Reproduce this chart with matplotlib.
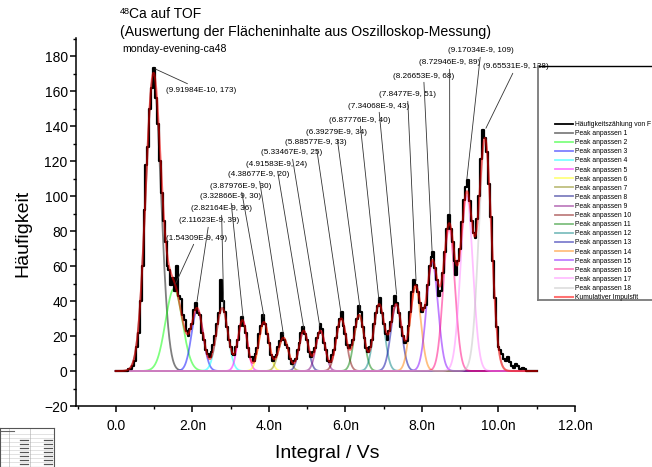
import numpy as np
import matplotlib
matplotlib.use('Agg')
import matplotlib.pyplot as plt
from matplotlib.lines import Line2D
from matplotlib.ticker import MultipleLocator, FuncFormatter

plt.rcParams['font.family'] = ['Liberation Sans', 'DejaVu Sans']

# ---------------- data ----------------
# histogram (Häufigkeit) at bin centres, x in nVs (0.05 nVs steps)
hist_x = [i * 0.05 for i in range(221)]
hist_counts = [
    0, 0, 0, 0, 0, 0, 0, 1, 1, 3,              # 0.00 - 0.45
    6, 14, 22, 40, 60, 92, 118, 128, 150, 162,  # 0.50 - 0.95
    173, 156, 141, 120, 102, 86, 74, 60, 58, 49,  # 1.00 - 1.45
    53, 46, 60, 43, 41, 32, 29, 23, 20, 24,    # 1.50 - 1.95
    27, 35, 39, 33, 32, 22, 18, 12, 10, 8,     # 2.00 - 2.45
    11, 15, 20, 27, 33, 52, 40, 34, 25, 18,    # 2.50 - 2.95
    14, 10, 9, 14, 18, 26, 31, 26, 22, 13,     # 3.00 - 3.45
    8, 8, 6, 10, 13, 21, 26, 32, 27, 21,       # 3.50 - 3.95
    16, 9, 6, 8, 9, 14, 17, 22, 18, 15,        # 4.00 - 4.45
    13, 7, 4, 6, 7, 12, 16, 22, 25, 21,        # 4.50 - 4.95
    18, 11, 8, 11, 13, 19, 22, 27, 24, 16,     # 5.00 - 5.45
    12, 6, 5, 9, 12, 19, 25, 30, 34, 26,       # 5.50 - 5.95
    21, 15, 13, 15, 18, 25, 30, 37, 34, 25,    # 6.00 - 6.45
    19, 13, 11, 14, 18, 27, 33, 37, 42, 33,    # 6.50 - 6.95
    27, 21, 18, 23, 28, 37, 43, 39, 33, 25,    # 7.00 - 7.45
    20, 16, 17, 26, 34, 45, 52, 49, 45, 39,    # 7.50 - 7.95
    34, 36, 38, 49, 60, 65, 68, 59, 52, 43,    # 8.00 - 8.45
    46, 56, 68, 81, 89, 81, 74, 63, 55, 63,    # 8.50 - 8.95
    70, 85, 98, 105, 109, 97, 86, 79, 76, 87,  # 9.00 - 9.45
    100, 121, 138, 133, 125, 107, 88, 63, 42, 25,  # 9.50 - 9.95
    14, 12, 10, 7, 6, 8, 5, 3, 2, 4,           # 10.00 - 10.45
    3, 1, 1, 2, 1, 0, 0, 0, 0, 0,              # 10.50 - 10.95
    0]                                          # 11.00

# fitted gaussian peaks (centre nVs, height, sigma nVs)
peak_centers = [0.98, 1.52, 2.13, 2.78, 3.31, 3.87, 4.38, 4.91, 5.35,
                5.89, 6.36, 6.88, 7.33, 7.83, 8.27, 8.71, 9.17, 9.65]
peak_heights = [168, 47, 35, 36, 29, 28, 19, 23, 23,
                30, 32, 38, 38, 48, 62, 82, 100, 132]
peak_sigmas = [0.20, 0.22, 0.15, 0.15, 0.12, 0.13, 0.13, 0.12, 0.12,
               0.13, 0.13, 0.14, 0.14, 0.14, 0.15, 0.15, 0.16, 0.165]

# labelled maxima
label_x = [9.91984e-10, 1.54309e-9, 2.11623e-9, 2.82164e-9, 3.32866e-9,
           3.87976e-9, 4.38677e-9, 4.91583e-9, 5.33467e-9, 5.88577e-9,
           6.39279e-9, 6.87776e-9, 7.34068e-9, 7.8477e-9, 8.26653e-9,
           8.72946e-9, 9.17034e-9, 9.65531e-9]
label_y = [173, 49, 39, 36, 30, 30, 20, 24, 25, 33, 34, 40, 43, 51, 68, 89, 109, 138]

legend_labels = ['Häufigkeitszählung von F'] + \
    [f'Peak anpassen {i}' for i in range(1, 19)] + ['Kumulativer Impulsfit']

# ---------------- styles / layout ----------------
peak_colors = ['#000000', '#00ff00', '#0000ff', '#00ffff', '#ff00ff', '#ffff00',
               '#808000', '#000080', '#800080', '#800000', '#008000', '#008080',
               '#0000a0', '#ff8000', '#8000ff', '#ff0080', '#ff80ff', '#c0c0c0']
label_pos_px = [(166, 90), (166, 238), (179, 221), (191, 209), (200, 197), (210, 186),
                (228, 175), (246, 165), (261, 153), (285, 143), (306, 133), (329, 120),
                (348, 106), (379, 95), (393, 76), (419, 63), (448, 51), (483, 67)]

W, H = 652, 467
fig = plt.figure(figsize=(W / 100, H / 100), dpi=100)
ax = fig.add_axes([76 / W, 1 - 406 / H, (575 - 76) / W, (406 - 38) / H])

xf = np.linspace(0, 11.0, 1101)
total = np.zeros_like(xf)
for c, a, s, col in zip(peak_centers, peak_heights, peak_sigmas, peak_colors):
    g = a * np.exp(-(xf - c) ** 2 / (2 * s ** 2))
    total += g
    ax.plot(xf, g, color=col, alpha=0.5, lw=1.3, zorder=2)

ax.plot(hist_x, hist_counts, color='black', lw=1.6, drawstyle='steps-mid', zorder=3)
ax.plot(xf, total, color='red', alpha=0.55, lw=1.5, zorder=4)

for lx, ly, (px, py) in zip(label_x, label_y, label_pos_px):
    txt = ('(%G, %d)' % (lx, ly)).replace('E-0', 'E-')
    ax.annotate(txt, xy=(lx * 1e9, ly), xycoords='data',
                xytext=(px, H - py), textcoords='figure pixels',
                ha='left', va='center', fontsize=5.9,
                arrowprops=dict(arrowstyle='-', color='#333333', lw=0.6,
                                shrinkA=0, shrinkB=1), zorder=5)

ax.set_xlim(-1.04, 12.0)
ax.set_ylim(-20, 190.3)
for sp in ['top', 'right']:
    ax.spines[sp].set_visible(False)
for sp in ['left', 'bottom']:
    ax.spines[sp].set_linewidth(1.1)
ax.xaxis.set_major_locator(MultipleLocator(2))
ax.xaxis.set_minor_locator(MultipleLocator(1))
ax.yaxis.set_major_locator(MultipleLocator(20))
ax.yaxis.set_minor_locator(MultipleLocator(10))
ax.xaxis.set_major_formatter(FuncFormatter(lambda v, p: '0.0' if abs(v) < 1e-9 else f'{v:.1f}n'))
ax.tick_params(which='major', direction='out', length=4, width=1.1, labelsize=10, pad=2)
ax.tick_params(which='minor', direction='out', length=2.3, width=1.0)
ax.tick_params(axis='x', which='major', pad=5)

ax.set_ylabel('Häufigkeit', fontsize=14)
ax.yaxis.set_label_coords(-0.09, 0.47)
ax.set_xlabel('Integral / Vs', fontsize=14)
ax.xaxis.set_label_coords(0.503, -0.107)

# titles
fig.text(120 / W, 1 - 11 / H, '48', fontsize=6.5, va='center', ha='left')
fig.text(129 / W, 1 - 14 / H, 'Ca auf TOF', fontsize=10, va='center', ha='left')
fig.text(120 / W, 1 - 32 / H, '(Auswertung der Flächeninhalte aus Oszilloskop-Messung)',
         fontsize=10.2, va='center', ha='left')
fig.text(122 / W, 1 - 49 / H, 'monday-evening-ca48', fontsize=7.6, va='center', ha='left')

# legend box
fig.add_artist(Line2D([538 / W, 1.0], [1 - 66 / H, 1 - 66 / H], transform=fig.transFigure,
                      color='black', lw=1.0))
fig.add_artist(Line2D([538 / W, 538 / W], [1 - 66 / H, 1 - 300 / H], transform=fig.transFigure,
                      color='#7a7a7a', lw=1.3))
fig.add_artist(Line2D([538 / W, 1.0], [1 - 300 / H, 1 - 300 / H], transform=fig.transFigure,
                      color='#7a7a7a', lw=1.3))

handles = [Line2D([], [], color='black', lw=1.3)]
handles += [Line2D([], [], color=c, alpha=0.5, lw=1.3) for c in peak_colors]
handles += [Line2D([], [], color='red', alpha=0.55, lw=1.5)]
fig.legend(handles, legend_labels, loc='upper left',
           bbox_to_anchor=(555 / W, 1 - 121 / H), frameon=False, fontsize=4.9,
           handlelength=2.6, handletextpad=0.35, labelspacing=0.31,
           borderpad=0, borderaxespad=0)

# small embedded table thumbnail
tax = fig.add_axes([0, 0, 54 / W, 39 / H])
tax.set_xlim(0, 54)
tax.set_ylim(0, 39)
tax.set_xticks([])
tax.set_yticks([])
for sp in tax.spines.values():
    sp.set_color('#555555')
    sp.set_linewidth(0.8)
for yy in [33, 29, 25, 21, 17, 13, 9, 5]:
    tax.plot([0, 54], [yy, yy], color='#cccccc', lw=0.4)
for xx in [9, 30]:
    tax.plot([xx, xx], [0, 39], color='#aaaaaa', lw=0.4)
tax.plot([1, 14], [36, 36], color='#666666', lw=0.8)
for yy in [27, 23, 19, 15, 11, 7, 3]:
    tax.plot([20, 28], [yy, yy], color='#555555', lw=0.9)
    tax.plot([44, 52], [yy, yy], color='#555555', lw=0.9)

fig.savefig('out.png', dpi=100)
